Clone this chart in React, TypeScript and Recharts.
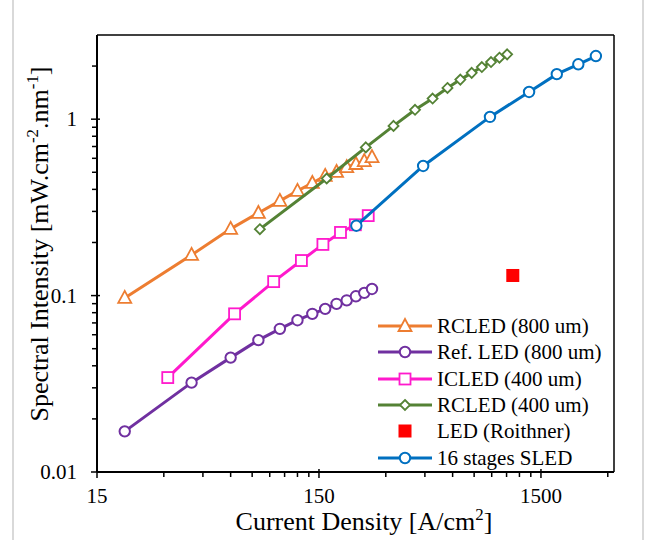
import React from 'react'
import {
  ScatterChart,
  Scatter,
  XAxis,
  YAxis,
  ReferenceLine,
} from 'recharts'

// RCLED 800 um
const rcled800X = [20, 40, 60, 80, 100, 120, 140, 160, 180, 200, 220, 240, 260]
const rcled800Y = [0.097, 0.17, 0.239, 0.294, 0.344, 0.392, 0.435, 0.477, 0.502, 0.535, 0.557, 0.579, 0.61]

// reference LED 800 um
const refLedX = [20, 40, 60, 80, 100, 120, 140, 160, 180, 200, 220, 240, 260]
const refLedY = [0.017, 0.0321, 0.0445, 0.0559, 0.0648, 0.0725, 0.0788, 0.0841, 0.0898, 0.094, 0.0991, 0.1036, 0.109]

// ICLED 400 um
const icledX = [31.25, 62.5, 93.75, 125, 156.25, 187.5, 218.75, 250]
const icledY = [0.0343, 0.0788, 0.12, 0.158, 0.195, 0.228, 0.252, 0.284]

// RCLED 400 um
const rcled400X = [81.25, 162.5, 243.75, 325, 406.25, 487.5, 568.75, 650, 731.25, 812.5, 893.75, 975, 1056.25]
const rcled400Y = [0.238, 0.461, 0.692, 0.916, 1.13, 1.309, 1.503, 1.676, 1.83, 1.975, 2.107, 2.232, 2.33]

// commercial LED, single point
const roithnerX = [1120]
const roithnerY = [0.13]

// 16 stage SLED
const sledX = [221, 442, 884, 1326, 1768, 2210, 2652]
const sledY = [0.249, 0.543, 1.03, 1.426, 1.8, 2.046, 2.28]

const xTicks = [15, 30, 45, 60, 75, 90, 105, 120, 135, 150, 300, 450, 600, 750, 900, 1050, 1200, 1350, 1500, 3000]
const xLabels = [15, 150, 1500]
const yTicks = [
  0.01, 0.02, 0.03, 0.04, 0.05, 0.06, 0.07, 0.08, 0.09,
  0.1, 0.2, 0.3, 0.4, 0.5, 0.6, 0.7, 0.8, 0.9,
  1, 2,
]
const yLabels = [0.01, 0.1, 1]

const FONT = "'Liberation Serif', 'Times New Roman', serif"

const zip = (xs: number[], ys: number[]) => xs.map((x, i) => ({ x, y: ys[i] }))

type MarkerKind = 'triangle' | 'circle' | 'square' | 'diamond' | 'filled'

function Marker({ kind, cx, cy, color }: { kind: MarkerKind; cx: number; cy: number; color: string }) {
  const sw = 1.8
  if (kind === 'triangle')
    return (
      <polygon
        points={`${cx},${cy - 7} ${cx - 6.5},${cy + 5} ${cx + 6.5},${cy + 5}`}
        fill="#fff"
        stroke={color}
        strokeWidth={sw}
      />
    )
  if (kind === 'circle') return <circle cx={cx} cy={cy} r={5.2} fill="#fff" stroke={color} strokeWidth={2} />
  if (kind === 'square')
    return <rect x={cx - 5.5} y={cy - 5.5} width={11} height={11} fill="#fff" stroke={color} strokeWidth={sw} />
  if (kind === 'diamond')
    return (
      <polygon
        points={`${cx},${cy - 5} ${cx + 5},${cy} ${cx},${cy + 5} ${cx - 5},${cy}`}
        fill="#fff"
        stroke={color}
        strokeWidth={sw}
      />
    )
  return <rect x={cx - 6.5} y={cy - 6.5} width={13} height={13} fill={color} />
}

const series = [
  { name: 'RCLED (800 um)', color: '#ED7D31', kind: 'triangle' as MarkerKind, data: zip(rcled800X, rcled800Y), line: true },
  { name: 'Ref. LED (800 um)', color: '#7030A0', kind: 'circle' as MarkerKind, data: zip(refLedX, refLedY), line: true },
  { name: 'ICLED (400 um)', color: '#FF19CC', kind: 'square' as MarkerKind, data: zip(icledX, icledY), line: true },
  { name: 'RCLED (400 um)', color: '#548235', kind: 'diamond' as MarkerKind, data: zip(rcled400X, rcled400Y), line: true },
  { name: 'LED (Roithner)', color: '#FF0000', kind: 'filled' as MarkerKind, data: zip(roithnerX, roithnerY), line: false },
  { name: '16 stages SLED', color: '#0070C0', kind: 'circle' as MarkerKind, data: zip(sledX, sledY), line: true },
]

function XTick(props: any) {
  const { x, y, payload } = props
  const major = xLabels.includes(payload.value)
  return (
    <g>
      <line x1={x} x2={x} y1={y - (major ? 3 : 0)} y2={y + (major ? 6 : 5)} stroke="#000" strokeWidth={1.5} />
      {major && (
        <text x={x} y={y + 31} textAnchor="middle" fontSize={21} fontFamily={FONT} fill="#000">
          {payload.value}
        </text>
      )}
    </g>
  )
}

function YTick(props: any) {
  const { x, y, payload } = props
  const major = yLabels.includes(payload.value)
  return (
    <g>
      <line x1={x - (major ? 6 : 5)} x2={x + (major ? 3 : 0)} y1={y} y2={y} stroke="#000" strokeWidth={1.5} />
      {major && (
        <text x={x - 20} y={y + 7} textAnchor="end" fontSize={21} fontFamily={FONT} fill="#000">
          {payload.value}
        </text>
      )}
    </g>
  )
}

const legendRows = [326, 352.3, 378.6, 404.9, 431.2, 457.5]

export default function App() {
  return (
    <div style={{ position: 'absolute', left: 0, top: 0, width: 652, height: 540, background: '#fff', fontFamily: FONT }}>
      <div style={{ position: 'absolute', left: 12, top: 0, width: 628, height: 540, borderLeft: '2px solid #d9d9d9', borderRight: '2px solid #d9d9d9' }} />
      <ScatterChart width={652} height={540} margin={{ top: 35, right: 38, left: 0, bottom: 0 }}>
        <XAxis
          dataKey="x"
          type="number"
          scale="log"
          domain={[15, 3200]}
          allowDataOverflow
          ticks={xTicks}
          interval={0}
          height={68}
          tickSize={0}
          tickMargin={0}
          tickLine={false}
          tick={<XTick />}
          axisLine={{ stroke: '#000', strokeWidth: 2 }}
        />
        <YAxis
          dataKey="y"
          type="number"
          scale="log"
          domain={[0.01, 3]}
          allowDataOverflow
          ticks={yTicks}
          interval={0}
          width={97}
          tickSize={0}
          tickMargin={0}
          tickLine={false}
          tick={<YTick />}
          axisLine={{ stroke: '#000', strokeWidth: 2 }}
        />
        <ReferenceLine y={3} stroke="#000" strokeWidth={1.5} />
        <ReferenceLine x={3200} stroke="#000" strokeWidth={1.5} />
        {series.map((s) => (
          <Scatter
            key={s.name}
            name={s.name}
            data={s.data}
            isAnimationActive={false}
            line={s.line ? { stroke: s.color, strokeWidth: 3 } : false}
            lineJointType="linear"
            shape={(p: any) => <Marker kind={s.kind} cx={p.cx} cy={p.cy} color={s.color} />}
          />
        ))}
      </ScatterChart>

      {/* legend */}
      {series.map((s, i) => (
        <div
          key={s.name}
          style={{ position: 'absolute', left: 378, top: legendRows[i] - 13, height: 26, display: 'flex', alignItems: 'center' }}
        >
          <svg width={56} height={26} style={{ display: 'block' }}>
            {s.line && <line x1={0} x2={54} y1={13} y2={13} stroke={s.color} strokeWidth={3} />}
            <Marker kind={s.kind} cx={27} cy={13} color={s.color} />
          </svg>
          <span style={{ marginLeft: 3, fontSize: 21, lineHeight: '26px', whiteSpace: 'nowrap', color: '#000' }}>{s.name}</span>
        </div>
      ))}

      {/* axis titles */}
      <div style={{ position: 'absolute', left: 164, top: 508, width: 400, textAlign: 'center', fontSize: 26, lineHeight: '28px', color: '#000' }}>
        Current Density [A/cm<sup style={{ fontSize: '0.65em', verticalAlign: 'super', lineHeight: 0 }}>2</sup>]
      </div>
      <div
        style={{
          position: 'absolute',
          left: 40 - 220,
          top: 244 - 15,
          width: 440,
          height: 30,
          textAlign: 'center',
          fontSize: 26,
          lineHeight: '30px',
          transform: 'rotate(-90deg)',
          whiteSpace: 'nowrap',
          color: '#000',
        }}
      >
        Spectral Intensity [mW.cm<sup style={{ fontSize: '0.65em', verticalAlign: 'super', lineHeight: 0 }}>-2</sup>.nm
        <sup style={{ fontSize: '0.65em', verticalAlign: 'super', lineHeight: 0 }}>-1</sup>]
      </div>
    </div>
  )
}
